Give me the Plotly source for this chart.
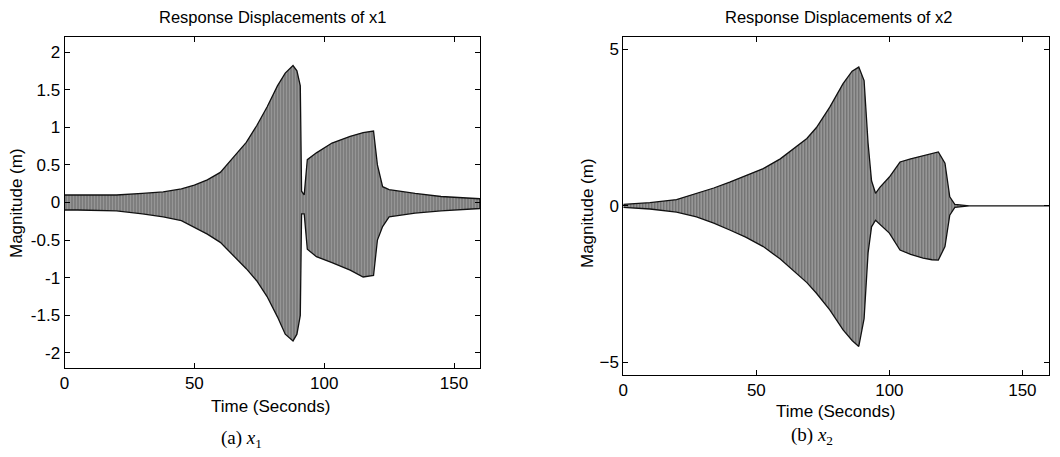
import plotly.graph_objects as go

# ---- data (envelopes of the response) ----
x1_time = [0, 5, 10, 20, 30, 38, 45, 50, 55, 60, 65, 70, 74, 78, 82, 85, 88, 89.5, 90.8, 91.3, 92.3, 93.5, 97, 103, 110, 115, 119, 120.5, 122.5, 125, 135, 145, 160]
x1_upper = [0.1, 0.1, 0.1, 0.1, 0.12, 0.14, 0.18, 0.23, 0.3, 0.4, 0.6, 0.8, 1.02, 1.27, 1.55, 1.72, 1.82, 1.75, 1.55, 0.15, 0.1, 0.57, 0.66, 0.79, 0.88, 0.93, 0.95, 0.5, 0.21, 0.17, 0.12, 0.08, 0.05]
x1_lower = [-0.1, -0.1, -0.1, -0.11, -0.15, -0.19, -0.24, -0.33, -0.42, -0.53, -0.7, -0.88, -1.04, -1.25, -1.52, -1.75, -1.84, -1.75, -1.5, -0.15, -0.15, -0.62, -0.72, -0.8, -0.9, -0.99, -0.97, -0.5, -0.32, -0.19, -0.14, -0.11, -0.08]

x2_time = [0, 10, 20, 27.5, 34, 40, 46, 52.6, 59, 65, 69, 72.6, 77.6, 82.6, 86, 88.5, 90.5, 92, 93.3, 94.8, 96.5, 100, 104, 108, 112.7, 116, 118.4, 120.9, 122.7, 124.6, 130, 160]
x2_upper = [0.05, 0.1, 0.2, 0.39, 0.57, 0.76, 0.97, 1.19, 1.5, 1.88, 2.15, 2.5, 3.15, 3.9, 4.3, 4.43, 4.0, 2.0, 0.8, 0.4, 0.6, 0.92, 1.4, 1.5, 1.61, 1.68, 1.72, 1.36, 0.29, 0.05, 0.0, 0.0]
x2_lower = [-0.05, -0.1, -0.2, -0.35, -0.55, -0.77, -1.0, -1.3, -1.7, -2.15, -2.45, -2.79, -3.32, -3.96, -4.3, -4.49, -3.6, -1.5, -0.67, -0.46, -0.6, -0.87, -1.41, -1.55, -1.67, -1.72, -1.73, -1.3, -0.3, -0.05, 0.0, 0.0]

x_ticks = [0, 50, 100, 150]
y1_ticks = [-2, -1.5, -1, -0.5, 0, 0.5, 1, 1.5, 2]
y1_labels = ["-2", "-1.5", "-1", "-0.5", "0", "0.5", "1", "1.5", "2"]
y2_ticks = [-5, 0, 5]

titles = ["Response Displacements of x1", "Response Displacements of x2"]
captions = ["(a) <i>x</i><sub>1</sub>", "(b) <i>x</i><sub>2</sub>"]

# page body has an 8px margin: figure is sized to fit the window exactly
OFF = 8
W, H = 1060 - OFF, 457 - OFF

def fx(px):
    return (px - OFF) / W

def fy(py):
    return 1 - (py - OFF) / H

fig = go.Figure()

def band(t, up, lo, xa, ya):
    xs = list(t) + list(reversed(t))
    ys = list(up) + list(reversed(lo))
    fig.add_trace(go.Scatter(
        x=xs, y=ys, xaxis=xa, yaxis=ya, mode="lines", fill="toself",
        fillcolor="#8f8f8f",
        fillpattern=dict(shape="|", fgcolor="#262626", bgcolor="#a6a6a6", size=3, solidity=0.5),
        line=dict(color="#111111", width=1.3), showlegend=False, hoverinfo="skip"))

band(x1_time, x1_upper, x1_lower, "x", "y")
band(x2_time, x2_upper, x2_lower, "x2", "y2")

font_sans = "Liberation Sans"
ax_common = dict(showline=True, mirror="allticks", linecolor="black", linewidth=1,
                 ticks="inside", ticklen=5, tickcolor="black", showgrid=False, zeroline=False,
                 automargin=False,
                 tickfont=dict(family=font_sans, size=17, color="black"))

fig.update_layout(
    width=W, height=H, margin=dict(l=0, r=0, t=0, b=0),
    paper_bgcolor="white", plot_bgcolor="white",
    font=dict(family=font_sans),
    xaxis=dict(domain=[fx(64.5), fx(480)], range=[0, 160], tickvals=x_ticks, anchor="y", **ax_common),
    yaxis=dict(domain=[fy(368), fy(37)], range=[-2.2, 2.2], tickvals=y1_ticks, ticktext=y1_labels, anchor="x", **ax_common),
    xaxis2=dict(domain=[fx(623.3), fx(1049)], range=[0, 160], tickvals=x_ticks, anchor="y2", **ax_common),
    yaxis2=dict(domain=[fy(375), fy(36.7)], range=[-5.4, 5.4], tickvals=y2_ticks, anchor="x2", **ax_common),
)

def ann(text, x, y, size, family=font_sans, angle=0):
    fig.add_annotation(text=text, x=fx(x), y=fy(y), xref="paper", yref="paper",
                       showarrow=False, xanchor="center", yanchor="middle", textangle=angle,
                       font=dict(family=family, size=size, color="black"))

ann(titles[0], 272, 17, 16.5)
ann(titles[1], 838, 17, 16.5)
ann("Time (Seconds)", 270, 406, 17)
ann("Time (Seconds)", 835, 411, 17)
ann("Magnitude (m)", 16, 203, 17, angle=-90)
ann("Magnitude (m)", 587, 213, 17, angle=-90)
ann(captions[0], 242, 439, 19, family="Liberation Serif")
ann(captions[1], 812, 436, 19, family="Liberation Serif")

fig.write_html("out.html")
